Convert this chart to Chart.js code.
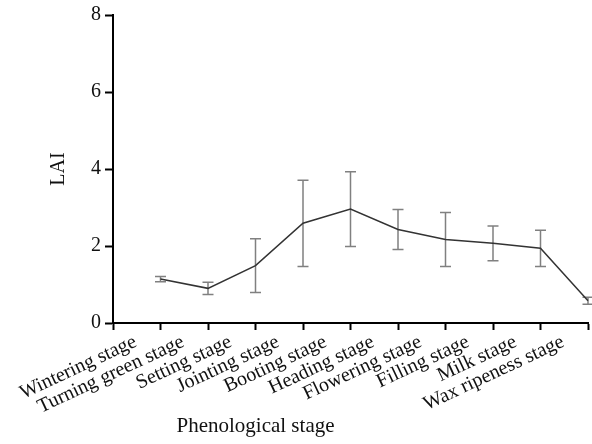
<!DOCTYPE html>
<html>
<head>
<meta charset="utf-8">
<script src="https://cdn.jsdelivr.net/npm/chart.js@4/dist/chart.umd.min.js"></script>
<style>
html,body{margin:0;padding:0;background:#fff;}
#wrap{width:592px;height:444px;position:relative;}
</style>
</head>
<body>
<div id="wrap"><canvas id="c" width="592" height="444"></canvas></div>
<script>
const categories = ['Wintering stage','Turning green stage','Setting stage','Jointing stage','Booting stage','Heading stage','Flowering stage','Filling stage','Milk stage','Wax ripeness stage'];
const laiMean = [1.14, 0.90, 1.49, 2.59, 2.96, 2.43, 2.17, 2.07, 1.94, 0.58];
const laiSD   = [0.07, 0.16, 0.70, 1.12, 0.97, 0.52, 0.70, 0.45, 0.47, 0.09];
const yTicks  = [0, 2, 4, 6, 8];
const xTitle = 'Phenological stage';
const yTitle = 'LAI';

const FONT = "'Liberation Serif', 'DejaVu Serif', serif";

const axisLabels = [''].concat(categories);
const seriesData = [null].concat(laiMean);

const errorBars = {
  id: 'errorBars',
  beforeDatasetsDraw(chart) {
    const {ctx, scales: {x, y}} = chart;
    ctx.save();
    ctx.strokeStyle = '#808080';
    ctx.lineWidth = 1.5;
    laiMean.forEach((v, i) => {
      const px = x.getPixelForValue(i + 1);
      const top = y.getPixelForValue(v + laiSD[i]);
      const bot = y.getPixelForValue(v - laiSD[i]);
      ctx.beginPath();
      ctx.moveTo(px, top); ctx.lineTo(px, bot);
      ctx.moveTo(px - 5.5, top); ctx.lineTo(px + 5.5, top);
      ctx.moveTo(px - 5.5, bot); ctx.lineTo(px + 5.5, bot);
      ctx.stroke();
    });
    ctx.restore();
  }
};

const xTitlePlugin = {
  id: 'xTitlePlugin',
  afterDraw(chart) {
    const {ctx, chartArea} = chart;
    ctx.save();
    ctx.font = "21px " + FONT;
    ctx.fillStyle = '#111';
    ctx.textAlign = 'center';
    ctx.textBaseline = 'alphabetic';
    ctx.fillText(xTitle, chartArea.left + chartArea.width * 0.30, 432);
    ctx.restore();
  }
};

new Chart(document.getElementById('c'), {
  type: 'line',
  data: {
    labels: axisLabels,
    datasets: [{
      data: seriesData,
      borderColor: '#333',
      borderWidth: 1.5,
      pointRadius: 0,
      tension: 0,
      fill: false
    }]
  },
  options: {
    responsive: false,
    animation: false,
    devicePixelRatio: 1,
    layout: { padding: { left: 45, top: 15, right: 4, bottom: 0 } },
    plugins: { legend: { display: false }, tooltip: { enabled: false } },
    scales: {
      x: {
        type: 'category',
        offset: false,
        afterFit(s) { s.height = 121; s.paddingRight = 0; s.paddingLeft = 0; },
        border: { display: true, color: '#000', width: 2 },
        grid: { display: true, drawOnChartArea: false, drawTicks: true, tickLength: 7, tickColor: '#000', tickWidth: 2 },
        ticks: {
          autoSkip: false,
          maxRotation: 25, minRotation: 25,
          labelOffset: -25,
          padding: 0,
          color: '#111',
          font: { family: FONT, size: 20 }
        }
      },
      y: {
        min: 0, max: 8,
        afterFit(s) { s.width = 68; s.paddingTop = 0; s.paddingBottom = 0; },
        afterBuildTicks(s) { s.ticks = yTicks.map(v => ({value: v})); },
        border: { display: true, color: '#000', width: 2 },
        grid: { display: true, drawOnChartArea: false, drawTicks: true, tickLength: 8, tickColor: '#000', tickWidth: 2 },
        ticks: { padding: 4, color: '#111', font: { family: FONT, size: 20 } },
        title: { display: true, text: yTitle, color: '#111', font: { family: FONT, size: 20 }, padding: { top: 2, bottom: 0 } }
      }
    }
  },
  plugins: [errorBars, xTitlePlugin]
});
</script>
</body>
</html>
